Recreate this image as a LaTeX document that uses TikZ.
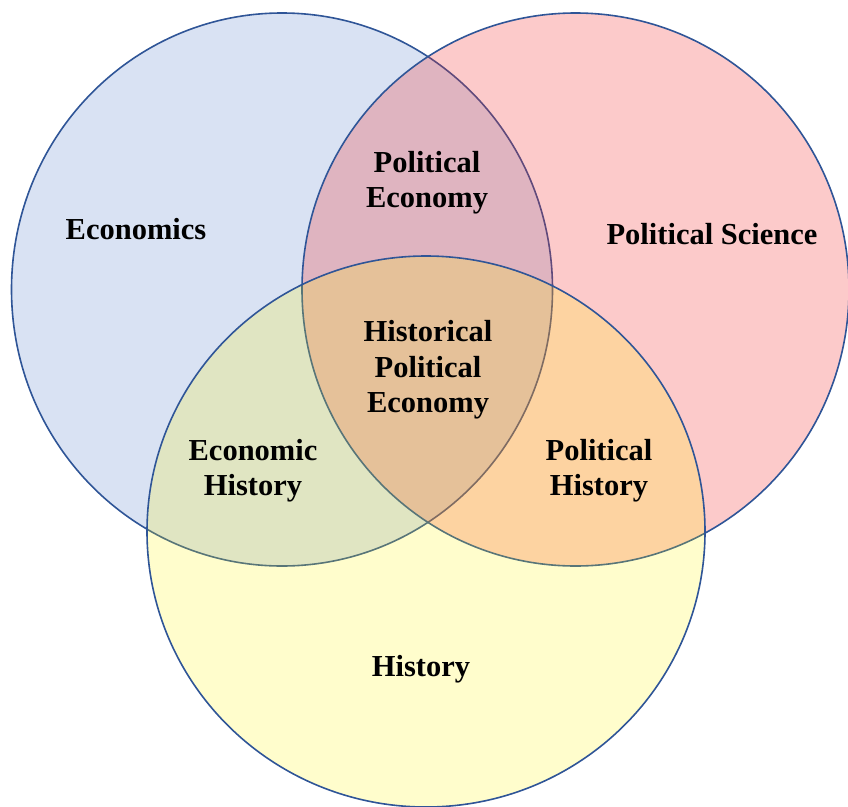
\documentclass[tikz,border=0pt]{standalone}
\usepackage{fontspec}
\setmainfont{Liberation Serif}
\definecolor{econfill}{RGB}{217,226,243}
\definecolor{polred}{RGB}{244,43,43}
\definecolor{histyellow}{RGB}{255,245,0}
\definecolor{ringblue}{RGB}{47,85,151}
\begin{document}
\begin{tikzpicture}[x=1pt,y=-1pt,
  outline/.style={draw=ringblue, line width=1.6pt},
  lbl/.style={font=\fontsize{30.5}{35.5}\selectfont\bfseries, align=center, inner sep=0pt, text=black}]
\useasboundingbox (0,0) rectangle (848,806);
% Economics
\fill[econfill] (282,289.5) ellipse [x radius=270.5, y radius=276.5];
\draw[outline] (282,289.5) ellipse [x radius=270.5, y radius=276.5];
% Political Science
\fill[polred, fill opacity=0.25] (575.5,289.5) ellipse [x radius=273.5, y radius=276.5];
\draw[outline] (575.5,289.5) ellipse [x radius=273.5, y radius=276.5];
% History
\fill[histyellow, fill opacity=0.2] (426,531.5) ellipse [x radius=279, y radius=275.5];
\draw[outline] (426,531.5) ellipse [x radius=279, y radius=275.5];
% Labels
\node[lbl] (econ) at (136,229.5) {Economics};
\node[lbl] (polsci) at (712,234.5) {Political Science};
\node[lbl] (hist) at (421,669.5) {History};
\node[lbl] (polecon) at (427,182.5) {Political\\Economy};
\node[lbl] (hpe) at (428,370) {Historical\\Political\\Economy};
\node[lbl] (econhist) at (253,470.5) {Economic\\History};
\node[lbl] (polhist) at (599,470.5) {Political\\History};
\end{tikzpicture}
\end{document}
